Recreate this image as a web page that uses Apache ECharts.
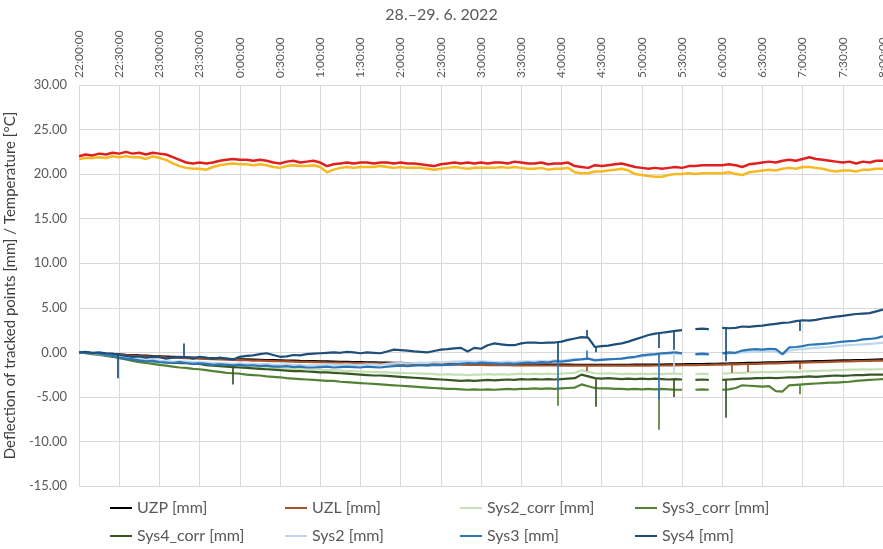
<!DOCTYPE html>
<html><head><meta charset="utf-8">
<script src="https://cdn.jsdelivr.net/npm/echarts@6/dist/echarts.min.js"></script>
<style>html,body{margin:0;padding:0;background:#fff}#c{width:883px;height:549px}</style>
</head><body><div id="c"></div>
<script>
const FONT = 'Lato, "Noto Sans", sans-serif';
const chartTitle = '28.–29. 6. 2022';
const yAxisTitle = 'Deflection of tracked points [mm] / Temperature [°C]';
const timeLabels = ['22:00:00','22:30:00','23:00:00','23:30:00','0:00:00','0:30:00','1:00:00','1:30:00','2:00:00','2:30:00','3:00:00','3:30:00','4:00:00','4:30:00','5:00:00','5:30:00','6:00:00','6:30:00','7:00:00','7:30:00','8:00:00'];
const stepMinutes = 5; // samples every 5 minutes from 22:00

const tempRed = [
22.0,22.2,22.1,22.3,22.2,22.4,22.3,22.5,22.3,22.4,22.2,22.4,
22.3,22.2,21.9,21.6,21.3,21.2,21.3,21.2,21.3,21.5,21.6,21.7,
21.6,21.6,21.5,21.6,21.5,21.3,21.2,21.4,21.5,21.3,21.4,21.5,
21.3,20.9,21.1,21.2,21.3,21.2,21.3,21.3,21.2,21.3,21.3,21.2,
21.3,21.2,21.2,21.1,21.0,20.9,21.1,21.2,21.3,21.2,21.3,21.2,
21.3,21.2,21.3,21.3,21.2,21.4,21.3,21.2,21.2,21.3,21.1,21.2,
21.2,21.3,20.9,20.8,20.7,21.0,20.9,21.0,21.1,21.2,21.0,20.8,
20.7,20.6,20.7,20.6,20.7,20.8,20.7,20.9,20.9,21.0,21.0,21.0,
21.0,21.1,21.0,20.8,21.1,21.2,21.3,21.4,21.3,21.5,21.6,21.5,
21.7,21.9,21.7,21.6,21.5,21.4,21.3,21.4,21.2,21.4,21.3,21.5,
21.5];
const tempYellow = [
21.7,21.8,21.8,21.9,21.8,22.0,21.9,22.0,21.9,21.9,21.7,22.0,
21.8,21.6,21.2,20.9,20.7,20.6,20.6,20.5,20.8,21.0,21.1,21.2,
21.1,21.1,21.0,21.1,21.0,20.8,20.7,20.9,21.0,20.9,20.9,21.0,
20.8,20.2,20.5,20.7,20.8,20.7,20.8,20.8,20.8,20.9,20.8,20.7,
20.8,20.7,20.7,20.7,20.6,20.5,20.6,20.7,20.8,20.7,20.6,20.7,
20.7,20.7,20.7,20.8,20.7,20.8,20.7,20.6,20.6,20.7,20.5,20.6,
20.6,20.7,20.2,20.1,20.1,20.3,20.3,20.4,20.5,20.6,20.4,20.0,
19.9,19.8,19.7,19.7,19.9,20.0,20.0,20.1,20.0,20.1,20.1,20.1,
20.1,20.2,20.0,19.9,20.2,20.3,20.4,20.5,20.4,20.6,20.7,20.6,
20.8,20.8,20.7,20.6,20.4,20.3,20.4,20.4,20.3,20.5,20.5,20.6,
20.6];
const uzp = [
0,-0.04,-0.08,-0.12,-0.16,-0.2,-0.24,-0.28,-0.31,-0.35,-0.38,-0.42,
-0.45,-0.48,-0.51,-0.54,-0.57,-0.6,-0.63,-0.66,-0.68,-0.71,-0.73,-0.76,
-0.78,-0.8,-0.82,-0.84,-0.86,-0.88,-0.9,-0.92,-0.94,-0.96,-0.97,-0.99,
-1.01,-1.02,-1.04,-1.06,-1.07,-1.09,-1.1,-1.12,-1.13,-1.15,-1.16,-1.18,
-1.19,-1.2,-1.22,-1.23,-1.24,-1.25,-1.26,-1.28,-1.29,-1.3,-1.31,-1.32,
-1.33,-1.34,-1.34,-1.35,-1.36,-1.36,-1.37,-1.37,-1.38,-1.38,-1.38,-1.39,
-1.39,-1.39,-1.4,-1.4,-1.4,-1.4,-1.4,-1.4,-1.4,-1.4,-1.4,-1.39,
-1.39,-1.38,-1.38,-1.37,-1.36,-1.35,-1.34,-1.33,-1.32,-1.31,-1.29,-1.28,
-1.26,-1.25,-1.23,-1.21,-1.19,-1.17,-1.15,-1.13,-1.11,-1.09,-1.07,-1.05,
-1.03,-1.01,-0.99,-0.97,-0.95,-0.93,-0.91,-0.89,-0.87,-0.86,-0.84,-0.82,
-0.8];
const uzl = [
0,-0.05,-0.1,-0.15,-0.2,-0.24,-0.29,-0.33,-0.37,-0.41,-0.45,-0.49,
-0.52,-0.56,-0.59,-0.62,-0.65,-0.68,-0.71,-0.74,-0.77,-0.8,-0.82,-0.85,
-0.87,-0.89,-0.92,-0.94,-0.96,-0.98,-1.0,-1.02,-1.04,-1.06,-1.07,-1.09,
-1.11,-1.13,-1.14,-1.16,-1.17,-1.19,-1.2,-1.22,-1.23,-1.25,-1.26,-1.27,
-1.29,-1.3,-1.31,-1.33,-1.34,-1.35,-1.36,-1.37,-1.38,-1.39,-1.4,-1.41,
-1.42,-1.43,-1.44,-1.44,-1.45,-1.46,-1.46,-1.47,-1.47,-1.48,-1.48,-1.48,
-1.49,-1.49,-1.5,-1.5,-1.5,-1.5,-1.5,-1.5,-1.5,-1.5,-1.5,-1.5,
-1.49,-1.49,-1.48,-1.48,-1.47,-1.46,-1.45,-1.44,-1.43,-1.42,-1.41,-1.39,
-1.38,-1.36,-1.35,-1.33,-1.31,-1.29,-1.27,-1.25,-1.23,-1.21,-1.19,-1.17,
-1.15,-1.13,-1.11,-1.09,-1.07,-1.05,-1.03,-1.01,-0.99,-0.97,-0.95,-0.93,
-0.92];
const sys2Corr = [
0,-0.05,-0.1,-0.2,-0.3,-0.4,-0.5,-0.6,-0.7,-0.75,-0.85,-0.9,
-1.0,-1.05,-1.1,-1.15,-1.2,-1.25,-1.3,-1.3,-1.35,-1.4,-1.45,-1.5,
-1.5,-1.55,-1.6,-1.65,-1.7,-1.7,-1.75,-1.8,-1.85,-1.85,-1.9,-1.95,
-1.95,-2.0,-2.0,-2.05,-2.1,-2.1,-2.15,-2.2,-2.2,-2.25,-2.25,-2.3,
-2.3,-2.35,-2.35,-2.4,-2.4,-2.45,-2.5,-2.45,-2.5,-2.5,-2.55,-2.5,
-2.5,-2.45,-2.5,-2.45,-2.5,-2.45,-2.4,-2.45,-2.4,-2.45,-2.4,-2.45,
-2.4,-2.35,-2.3,-2.0,-2.2,-2.35,-2.4,-2.35,-2.4,-2.45,-2.4,-2.45,
-2.4,-2.45,-2.4,-2.45,-2.4,-2.4,-2.45,null,-2.45,-2.4,-2.45,null,
-2.4,-2.35,-2.3,-2.3,-2.25,-2.25,-2.2,-2.25,-2.2,-2.2,-2.15,-2.2,
-2.15,-2.1,-2.1,-2.05,-2.05,-2.0,-2.0,-1.95,-1.95,-1.9,-1.95,-1.9,
-1.9];
const sys3Corr = [
0,-0.1,-0.2,-0.3,-0.4,-0.5,-0.65,-0.8,-0.95,-1.1,-1.2,-1.3,
-1.4,-1.5,-1.6,-1.7,-1.75,-1.85,-1.9,-2.0,-2.1,-2.2,-2.3,-2.35,
-2.4,-2.5,-2.55,-2.6,-2.7,-2.75,-2.8,-2.9,-2.95,-3.0,-3.05,-3.1,
-3.15,-3.2,-3.2,-3.3,-3.35,-3.4,-3.45,-3.5,-3.55,-3.6,-3.65,-3.7,
-3.75,-3.8,-3.85,-3.9,-3.95,-4.0,-4.05,-4.1,-4.1,-4.15,-4.2,-4.15,
-4.2,-4.15,-4.2,-4.15,-4.1,-4.15,-4.1,-4.1,-4.05,-4.1,-4.05,-4.1,
-4.05,-4.0,-3.95,-3.6,-3.8,-4.0,-4.05,-4.05,-4.1,-4.1,-4.15,-4.1,
-4.15,-4.1,-4.15,-4.1,-4.15,-4.2,-4.2,null,-4.2,-4.15,-4.2,null,
-4.2,-4.15,-4.0,-3.7,-3.75,-3.8,-3.85,-3.8,-4.35,-4.4,-3.7,-3.65,
-3.6,-3.55,-3.5,-3.45,-3.4,-3.4,-3.35,-3.3,-3.2,-3.15,-3.1,-3.05,
-3.0];
const sys4Corr = [
0,-0.05,-0.1,-0.2,-0.3,-0.45,-0.55,-0.7,-0.8,-0.9,-0.95,-1.0,
-1.05,-1.1,-1.15,-1.2,-1.2,-1.3,-1.3,-1.45,-1.5,-1.55,-1.6,-1.65,
-1.7,-1.75,-1.8,-1.85,-1.9,-1.95,-2.0,-2.05,-2.1,-2.1,-2.15,-2.2,
-2.25,-2.25,-2.3,-2.35,-2.4,-2.45,-2.5,-2.55,-2.6,-2.6,-2.65,-2.7,
-2.75,-2.8,-2.85,-2.9,-2.95,-3.0,-3.05,-3.1,-3.15,-3.2,-3.15,-3.2,
-3.15,-3.1,-3.15,-3.1,-3.05,-3.1,-3.0,-3.05,-3.0,-3.05,-3.0,-3.05,
-3.0,-2.95,-2.9,-2.5,-2.7,-2.9,-2.95,-2.9,-2.95,-3.0,-2.95,-3.0,
-2.95,-3.0,-2.95,-3.0,-3.05,-3.0,-3.05,null,-3.1,-3.05,-3.1,null,
-3.1,-3.05,-3.0,-2.95,-2.95,-2.9,-2.9,-2.85,-2.9,-2.85,-2.8,-2.8,
-2.75,-2.7,-2.75,-2.7,-2.65,-2.6,-2.65,-2.6,-2.55,-2.55,-2.5,-2.5,
-2.5];
const sys2 = [
0,-0.05,-0.1,-0.2,-0.3,-0.4,-0.5,-0.6,-0.7,-0.75,-0.85,-0.85,
-0.95,-1.0,-1.05,-1.0,-1.05,-1.1,-1.1,-1.15,-1.2,-1.2,-1.25,-1.3,
-1.25,-1.3,-1.3,-1.35,-1.3,-1.4,-1.4,-1.35,-1.4,-1.4,-1.45,-1.45,
-1.4,-1.35,-1.4,-1.4,-1.35,-1.4,-1.4,-1.35,-1.35,-1.4,-1.3,-1.25,
-1.2,-1.25,-1.2,-1.15,-1.2,-1.1,-1.15,-1.1,-1.05,-1.0,-1.0,-1.05,
-1.0,-1.05,-1.1,-1.1,-1.05,-1.1,-1.0,-1.0,-1.05,-0.95,-1.0,-0.9,
-0.95,-0.85,-0.8,-0.75,-0.7,-0.85,-0.8,-0.75,-0.75,-0.7,-0.6,-0.55,
-0.45,-0.35,-0.3,-0.2,-0.15,-0.1,-0.2,null,-0.3,-0.25,-0.3,null,
-0.2,-0.15,-0.1,0.0,0.05,0.1,0.1,0.15,0.1,-0.25,0.2,0.3,
0.35,0.45,0.5,0.55,0.6,0.7,0.75,0.8,0.85,0.9,0.95,1.0,
1.1];
const sys3 = [
0,-0.05,-0.1,-0.15,-0.3,-0.4,-0.6,-0.7,-0.8,-0.9,-1.0,-0.95,
-1.1,-1.15,-1.2,-1.1,-1.2,-1.3,-1.25,-1.3,-1.4,-1.35,-1.4,-1.45,
-1.4,-1.5,-1.45,-1.55,-1.5,-1.6,-1.6,-1.55,-1.65,-1.6,-1.7,-1.7,
-1.65,-1.6,-1.7,-1.65,-1.6,-1.65,-1.7,-1.6,-1.65,-1.7,-1.6,-1.55,
-1.5,-1.55,-1.5,-1.45,-1.5,-1.4,-1.45,-1.4,-1.35,-1.3,-1.2,-1.25,
-1.15,-1.2,-1.25,-1.3,-1.25,-1.3,-1.2,-1.15,-1.2,-1.1,-1.15,-1.0,
-1.05,-0.95,-0.85,-0.8,-0.7,-0.9,-0.85,-0.8,-0.75,-0.7,-0.6,-0.5,
-0.35,-0.25,-0.2,-0.1,-0.05,0.0,-0.1,null,-0.2,-0.15,-0.2,null,
-0.1,0.0,-0.05,0.2,0.3,0.35,0.3,0.4,0.35,-0.2,0.55,0.6,
0.7,0.85,0.9,0.95,1.0,1.1,1.2,1.25,1.3,1.45,1.5,1.6,
1.8];
const sys4 = [
0,0.05,-0.05,0,-0.1,-0.15,-0.3,-0.4,-0.5,-0.45,-0.6,-0.5,
-0.55,-0.7,-0.6,-0.5,-0.55,-0.7,-0.5,-0.6,-0.75,-0.6,-0.7,-0.8,
-0.5,-0.4,-0.35,-0.2,-0.1,-0.3,-0.5,-0.45,-0.3,-0.35,-0.2,-0.15,
-0.1,-0.05,0,-0.05,0.05,0,-0.1,0,-0.05,-0.1,0.1,0.3,
0.25,0.2,0.1,0.05,0,0.15,0.3,0.35,0.45,0.5,0.1,0.5,
0.4,0.8,1.0,0.9,0.8,0.8,1.0,1.1,1.1,1.05,1.1,1.1,
1.2,1.4,1.55,1.7,1.65,0.6,0.7,0.75,0.9,1.0,1.2,1.45,
1.7,1.95,2.1,2.2,2.3,2.4,2.5,null,2.6,2.65,2.6,null,
2.75,2.7,2.75,2.9,2.85,2.95,3.0,3.1,3.2,3.3,3.35,3.5,
3.6,3.55,3.65,3.8,3.9,4.0,4.1,4.2,4.3,4.35,4.4,4.6,
4.8];

// short single-reading spikes: [minute after 22:00, level before, spike value]
const uzlSpikes = [[379,-1.5,-2.1],[487,-1.37,-2.3],[499,-1.32,-2.2],[538,-1.15,-1.9]];
const sys2Spikes = [[444,-0.1,-2.3]];
const sys3Spikes = [[357,-1.0,-4.2],[379,-0.8,0.2],[433,-0.2,-5.3]];
const sys4Spikes = [[29,-0.2,-2.9],[78,-0.5,1.0],[357,1.1,-1.0],[379,1.6,2.5],[386,0.6,0.0],[433,2.1,0.5],[444,2.4,0.3],[483,2.8,-1.0],[538,3.6,2.4]];
const sys3CorrSpikes = [[357,-4.1,-6.0],[433,-4.15,-8.7],[538,-3.6,-4.7]];
const sys4CorrSpikes = [[115,-1.6,-3.6],[386,-2.9,-6.1],[444,-3.0,-5.0],[483,-3.1,-7.35]];

const seriesDefs = [
  {name:'UZP [mm]', values:uzp, color:'#000000', spikes:[]},
  {name:'UZL [mm]', values:uzl, color:'#a5532a', spikes:uzlSpikes},
  {name:'Sys2_corr [mm]', values:sys2Corr, color:'#c5e0b4', spikes:[]},
  {name:'Sys3_corr [mm]', values:sys3Corr, color:'#548235', spikes:sys3CorrSpikes},
  {name:'Sys4_corr [mm]', values:sys4Corr, color:'#385723', spikes:sys4CorrSpikes},
  {name:'Sys2 [mm]', values:sys2, color:'#bdd7ee', spikes:sys2Spikes},
  {name:'Sys3 [mm]', values:sys3, color:'#2e75b6', spikes:sys3Spikes},
  {name:'Sys4 [mm]', values:sys4, color:'#1f4e79', spikes:sys4Spikes},
  {name:'T1', values:tempYellow, color:'#f8b920', spikes:[], width:2.5},
  {name:'T2', values:tempRed, color:'#e0201e', spikes:[], width:2.5}
];

function toData(arr){ return arr.map((v,i)=>[i*stepMinutes, v===null?'-':v]); }
function toSpikes(list){ return list.map(s=>[{coord:[s[0],s[1]]},{coord:[s[0],s[2]]}]); }

const series = seriesDefs.map(d=>({
  name:d.name, type:'line', data:toData(d.values), showSymbol:false, symbol:'none',
  connectNulls:false, animation:false, silent:true,
  lineStyle:{color:d.color, width:d.width||2.2},
  itemStyle:{color:d.color},
  emphasis:{disabled:true},
  markLine: d.spikes.length ? {silent:true, symbol:['none','none'], animation:false,
    label:{show:false}, emphasis:{disabled:true},
    lineStyle:{color:d.color, width:1.7, type:'solid', opacity:1},
    data:toSpikes(d.spikes)} : undefined
}));

const legendCommon = {orient:'vertical', top:500, itemGap:12, icon:'rect', itemWidth:22, itemHeight:2,
  padding:0, selectedMode:false, textStyle:{fontFamily:FONT, fontSize:16, color:'#595959'}};
const legendCols = [
  {left:110, data:['UZP [mm]','Sys4_corr [mm]']},
  {left:285, data:['UZL [mm]','Sys2 [mm]']},
  {left:460, data:['Sys2_corr [mm]','Sys3 [mm]']},
  {left:635, data:['Sys3_corr [mm]','Sys4 [mm]']}
];

const chart = echarts.init(document.getElementById('c'), null, {renderer:'canvas'});
chart.setOption({
  animation:false,
  backgroundColor:'#ffffff',
  title:{text:chartTitle, left:'center', top:2, textStyle:{fontFamily:FONT, fontSize:16, fontWeight:'normal', color:'#595959'}},
  grid:{left:79, right:0, top:85, bottom:63, containLabel:false, outerBoundsMode:'none'},
  xAxis:{type:'value', position:'top', min:0, max:600, interval:30,
    axisLine:{show:false}, axisTick:{show:false},
    splitLine:{show:true, lineStyle:{color:'#d9d9d9', width:1}},
    axisLabel:{rotate:90, margin:7, fontFamily:FONT, fontSize:12, color:'#595959',
      formatter:v=>timeLabels[Math.round(v/30)]}},
  yAxis:{type:'value', min:-15, max:30, interval:5,
    axisLine:{show:false}, axisTick:{show:false},
    splitLine:{show:true, lineStyle:{color:'#d9d9d9', width:1}},
    axisLabel:{margin:12, fontFamily:FONT, fontSize:13, color:'#595959', formatter:v=>v.toFixed(2)},
    name:yAxisTitle, nameLocation:'middle', nameRotate:90, nameGap:50,
    nameTextStyle:{fontFamily:FONT, fontSize:15, color:'#404040'}},
  legend: legendCols.map(c=>Object.assign({}, legendCommon, c)),
  series
});
</script></body></html>
